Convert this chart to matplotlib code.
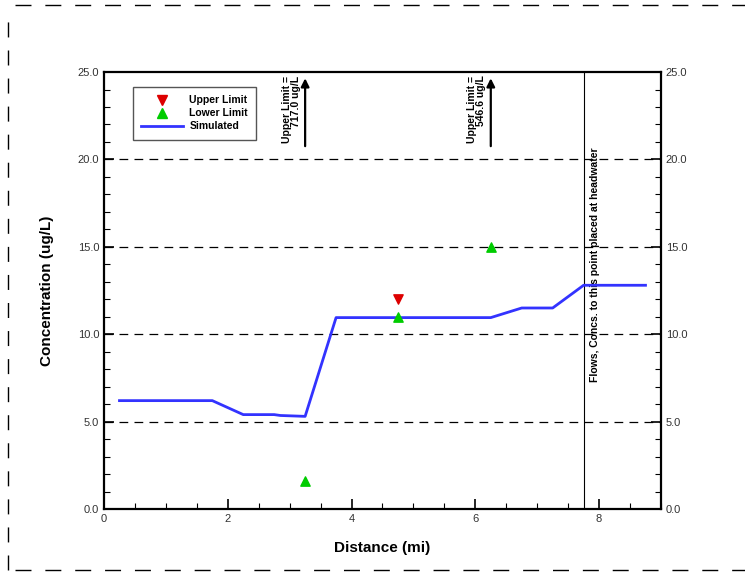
import matplotlib
matplotlib.use("Agg")
import matplotlib.pyplot as plt
from matplotlib.ticker import MultipleLocator
from matplotlib.lines import Line2D

# simulated profile
sim_x = [0.25, 1.75, 2.25, 2.75, 2.85, 3.25, 3.75, 4.75, 6.25, 6.75, 7.25, 7.75, 8.75]
sim_y = [6.2, 6.2, 5.4, 5.4, 5.35, 5.3, 10.95, 10.95, 10.95, 11.5, 11.5, 12.8, 12.8]

# limits
upper_x = [4.75]
upper_y = [12.0]
lower_x = [3.25, 4.75, 6.25]
lower_y = [1.6, 11.0, 15.0]

# off-scale upper limits
off_x = [3.25, 6.25]
off_labels = ["Upper Limit =\n717.0 ug/L", "Upper Limit =\n546.6 ug/L"]

headwater_x = 7.75
headwater_label = "Flows, Concs. to this point placed at headwater"

plt.rcParams['font.family'] = ['Liberation Sans', 'DejaVu Sans']

fig = plt.figure(figsize=(7.45, 5.73), dpi=100)
ax = fig.add_axes([0.1396, 0.1117, 0.7476, 0.7626])

# page border (dashed)
fig.add_artist(Line2D([0.02, 1], [0.991, 0.991], transform=fig.transFigure,
                      color='black', lw=1, dashes=(11.5, 10)))
fig.add_artist(Line2D([0.02, 1], [0.006, 0.006], transform=fig.transFigure,
                      color='black', lw=1, dashes=(11.5, 10)))
fig.add_artist(Line2D([0.011, 0.011], [0.006, 0.965], transform=fig.transFigure,
                      color='black', lw=1, dashes=(10.8, 9.4)))

for yv in [5, 10, 15, 20]:
    ax.axhline(yv, color='black', lw=0.9, dashes=(7, 5), zorder=1)

ax.axvline(headwater_x, color='black', lw=0.8, zorder=2)
ax.text(headwater_x + 0.1, 14.0, headwater_label, rotation=90, ha='left', va='center',
        fontsize=7.5, fontweight='bold')

ax.plot(sim_x, sim_y, color='#3333ff', lw=2, zorder=3)
ax.scatter(upper_x, upper_y, marker='v', s=45, color='#dd0000', zorder=4)
ax.scatter(lower_x, lower_y, marker='^', s=45, color='#00cc00', zorder=4)

for xv, lab in zip(off_x, off_labels):
    ax.annotate('', xy=(xv, 24.8), xytext=(xv, 20.6),
                arrowprops=dict(arrowstyle='-|>', color='black', lw=1.6,
                                mutation_scale=12))
    ax.text(xv - 0.07, 24.8, lab, rotation=90, ha='right', va='top',
            fontsize=7.5, fontweight='bold', linespacing=0.9)

ax.set_xlim(0, 9)
ax.set_ylim(0, 25)
ax.xaxis.set_major_locator(MultipleLocator(2))
ax.xaxis.set_minor_locator(MultipleLocator(0.5))
ax.yaxis.set_major_locator(MultipleLocator(5))
ax.yaxis.set_minor_locator(MultipleLocator(1))
ax.set_yticklabels([f"{v:.1f}" for v in ax.get_yticks()])

ax.tick_params(which='both', direction='in', top=False, right=True,
               labelright=True, labelsize=8, labelcolor='#333333')
ax.tick_params(which='major', length=7, width=1.2)
ax.tick_params(which='minor', length=4, width=0.8)
for lbl in ax.get_xticklabels() + ax.get_yticklabels() + ax.yaxis.get_ticklabels(which='major'):
    lbl.set_family(['Liberation Sans Narrow', 'Liberation Sans', 'DejaVu Sans'])
for lbl in ax.yaxis.get_majorticklabels():
    lbl.set_family(['Liberation Sans Narrow', 'Liberation Sans', 'DejaVu Sans'])
for t in ax.yaxis.get_major_ticks():
    t.label2.set_family(['Liberation Sans Narrow', 'Liberation Sans', 'DejaVu Sans'])
for sp in ax.spines.values():
    sp.set_linewidth(1.6)

ax.set_xlabel('Distance (mi)', fontsize=11, fontweight='bold', labelpad=12)
ax.set_ylabel('Concentration (ug/L)', fontsize=11, fontweight='bold', labelpad=17)

handles = [
    Line2D([], [], marker='v', color='#dd0000', ls='none', markersize=7),
    Line2D([], [], marker='^', color='#00cc00', ls='none', markersize=7),
    Line2D([], [], color='#3333ff', lw=2),
]
leg = ax.legend(handles, ['Upper Limit', 'Lower Limit', 'Simulated'],
                loc='upper left', bbox_to_anchor=(0.043, 0.978),
                prop={'size': 7.5, 'weight': 'bold'}, fancybox=False,
                framealpha=1, edgecolor='#555555', handlelength=4,
                labelspacing=0.3, borderpad=0.8, handletextpad=0.6)
leg.get_frame().set_linewidth(1)

fig.savefig('out.png', dpi=100)
